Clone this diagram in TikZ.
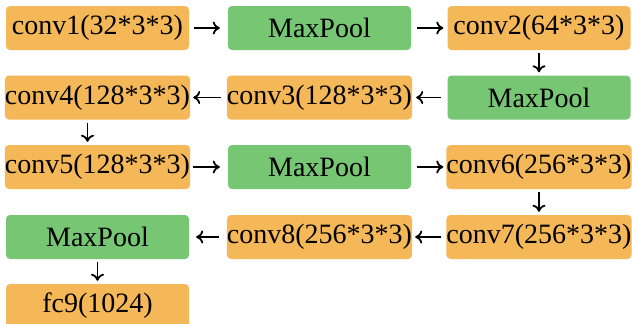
\documentclass[tikz,border=0pt]{standalone}
\usepackage{fontspec}
\setmainfont{Liberation Serif}
\usetikzlibrary{arrows.meta}
\definecolor{convc}{RGB}{245,184,88}
\definecolor{poolc}{RGB}{118,198,116}
\tikzset{
  blk/.style={rounded corners=4pt, minimum width=183pt, minimum height=44pt, inner sep=0pt,
    font=\fontsize{28}{30}\selectfont, text=black},
  convbox/.style={blk, fill=convc},
  poolbox/.style={blk, fill=poolc},
  arr/.style={line width=1.8pt, -{To[length=7pt,width=13pt,line width=1.8pt]}}
}
\begin{document}
\begin{tikzpicture}[x=1pt,y=-1pt]
\useasboundingbox (0,0) rectangle (632,324);
\node[convbox] (c1) at (97.5,28) {conv1(32*3*3)};
\node[poolbox] (p1) at (319.5,28) {MaxPool};
\node[convbox] (c2) at (539,28) {conv2(64*3*3)};
\node[convbox] (c4) at (97.5,97.5) {conv4(128*3*3)};
\node[convbox] (c3) at (319.5,97.5) {conv3(128*3*3)};
\node[poolbox] (p2) at (539,97.5) {MaxPool};
\node[convbox] (c5) at (97.5,167) {conv5(128*3*3)};
\node[poolbox] (p3) at (319.5,167) {MaxPool};
\node[convbox] (c6) at (539,167) {conv6(256*3*3)};
\node[poolbox] (p4) at (97.5,237) {MaxPool};
\node[convbox] (c8) at (319.5,237) {conv8(256*3*3)};
\node[convbox] (c7) at (539,237) {conv7(256*3*3)};
\node[convbox] (f9) at (97.5,306) {fc9(1024)};

\draw[arr, shorten <=5pt, shorten >=8pt] (c1.east) -- (p1.west);
\draw[arr, shorten <=6pt, shorten >=4pt] (p1.east) -- (c2.west);
\draw[arr, shorten <=3pt, shorten >=3pt] (c2.south) -- (p2.north);
\draw[arr, shorten <=6pt, shorten >=4pt] (p2.west) -- (c3.east);
\draw[arr, shorten <=6pt, shorten >=3pt] (c3.west) -- (c4.east);
\draw[arr, shorten <=3pt, shorten >=3pt] ([xshift=-10pt]c4.south) -- ([xshift=-10pt]c5.north);
\draw[arr, shorten <=3pt, shorten >=8pt] (c5.east) -- (p3.west);
\draw[arr, shorten <=6pt, shorten >=3pt] (p3.east) -- (c6.west);
\draw[arr, shorten <=3pt, shorten >=3pt] (c6.south) -- (c7.north);
\draw[arr, shorten <=5pt, shorten >=3pt] (c7.west) -- (c8.east);
\draw[arr, shorten <=8pt, shorten >=7pt] (c8.west) -- (p4.east);
\draw[arr, shorten <=3pt, shorten >=3pt] (p4.south) -- (f9.north);
\end{tikzpicture}
\end{document}
